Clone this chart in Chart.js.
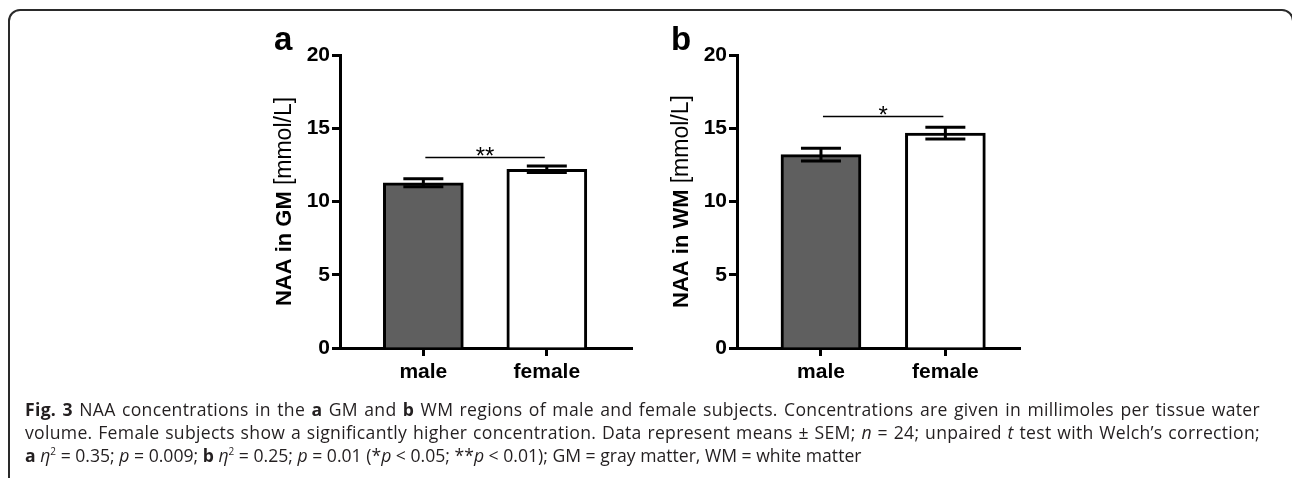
<!DOCTYPE html>
<html>
<head>
<meta charset="utf-8">
<script src="https://cdn.jsdelivr.net/npm/chart.js@4/dist/chart.umd.min.js"></script>
<style>
  html, body { margin: 0; padding: 0; background: #fff; }
  body { width: 1292px; height: 478px; position: relative; overflow: hidden; }
  .frame {
    position: absolute; left: 8px; top: 9px; width: 1282px; height: 600px;
    border: 2px solid #2a2a2a; border-radius: 12px 12px 0 0;
  }
  canvas { position: absolute; top: 0; }
  #chartGM { left: 0; }
  #chartWM { left: 646px; }
  .cap {
    position: absolute; left: 25px; width: 1235px;
    font-family: "Open Sans", sans-serif; font-size: 17.6px; line-height: 23px;
    color: #231f20; white-space: nowrap;
  }
  .cap.j { text-align: justify; text-align-last: justify; letter-spacing: 0.3px; }
  .cap b { font-weight: 700; }
  .cap sup { font-size: 10px; line-height: 0; vertical-align: 7px; }
</style>
</head>
<body>
<div class="frame"></div>
<canvas id="chartGM" width="646" height="400"></canvas>
<canvas id="chartWM" width="646" height="400"></canvas>

<div class="cap j" style="top:398px"><b>Fig. 3</b> NAA concentrations in the <b>a</b> GM and <b>b</b> WM regions of male and female subjects. Concentrations are given in millimoles per tissue water</div>
<div class="cap j" style="top:421px">volume. Female subjects show a significantly higher concentration. Data represent means ± SEM; <i>n</i> = 24; unpaired <i>t</i> test with Welch’s correction;</div>
<div class="cap" style="top:444px"><b>a</b> <i>η</i><sup>2</sup> = 0.35; <i>p</i> = 0.009; <b>b</b> <i>η</i><sup>2</sup> = 0.25; <i>p</i> = 0.01 (*<i>p</i> &lt; 0.05; **<i>p</i> &lt; 0.01); GM = gray matter, WM = white matter</div>

<script>
// data
const categories = ['male', 'female'];
const gmMeans = [11.28, 12.2];
const gmSem = [0.27, 0.22];
const wmMeans = [13.2, 14.67];
const wmSem = [0.43, 0.4];
const yMax = 20;
const yStep = 5;
const sigLevels = [13.0, 15.8];
const sigMarks = ['**', '*'];

const barColors = ['#5f5f5f', '#ffffff'];
const fontFamily = "'Liberation Sans', Arial, sans-serif";

// error bars, significance line, panel letter, y title
const panelDecor = {
    id: 'panelDecor',
    afterDatasetsDraw(chart, args, opts) {
        const ctx = chart.ctx;
        const xs = chart.scales.x, ys = chart.scales.y;
        ctx.save();
        ctx.strokeStyle = '#000';
        ctx.lineWidth = 3;
        opts.means.forEach((m, i) => {
            const x = xs.getPixelForValue(i);
            const yt = ys.getPixelForValue(m + opts.sem[i]);
            const yb = ys.getPixelForValue(m - opts.sem[i]);
            ctx.beginPath();
            ctx.moveTo(x, yt); ctx.lineTo(x, yb);
            ctx.moveTo(x - 20, yt); ctx.lineTo(x + 20, yt);
            ctx.moveTo(x - 20, yb); ctx.lineTo(x + 20, yb);
            ctx.stroke();
        });
        // significance bracket
        const sy = ys.getPixelForValue(opts.sig);
        const x0 = xs.getPixelForValue(0), x1 = xs.getPixelForValue(1);
        ctx.lineWidth = 1.5;
        ctx.beginPath();
        ctx.moveTo(x0 + 2, sy); ctx.lineTo(x1 - 2, sy);
        ctx.stroke();
        ctx.fillStyle = '#000';
        ctx.font = '24px ' + fontFamily;
        ctx.textAlign = 'center';
        ctx.textBaseline = 'alphabetic';
        ctx.fillText(opts.mark, (x0 + x1) / 2, sy + 6);
        ctx.restore();
    },
    afterDraw(chart, args, opts) {
        const ctx = chart.ctx;
        const area = chart.chartArea;
        ctx.save();
        ctx.fillStyle = '#000';
        ctx.font = 'bold 33px ' + fontFamily;
        ctx.textAlign = 'left';
        ctx.textBaseline = 'alphabetic';
        ctx.fillText(opts.letter, area.left - 66, area.top - 5);

        // rotated y title, bold part + normal part
        const boldFont = 'bold 22px ' + fontFamily;
        const normFont = '23px ' + fontFamily;
        ctx.font = boldFont;
        const w1 = ctx.measureText(opts.titleBold).width;
        ctx.font = normFont;
        const w2 = ctx.measureText(opts.titleNorm).width;
        ctx.translate(area.left - 55, (area.top + area.bottom) / 2);
        ctx.rotate(-Math.PI / 2);
        ctx.textBaseline = 'middle';
        let x = -(w1 + w2) / 2;
        ctx.font = boldFont;
        ctx.fillText(opts.titleBold, x, 0);
        ctx.font = normFont;
        ctx.fillText(opts.titleNorm, x + w1, 0);
        ctx.restore();
    }
};

function makePanel(id, means, sem, opts) {
    const ctx = document.getElementById(id);
    if (!ctx) return;
    new Chart(ctx, {
        type: 'bar',
        data: {
            datasets: [{
                data: means.map((v, i) => ({ x: i, y: v })),
                backgroundColor: barColors,
                borderColor: '#000',
                borderWidth: 3,
                barThickness: 80
            }]
        },
        options: {
            responsive: false,
            animation: false,
            layout: { padding: { left: opts.padLeft, right: opts.padRight, top: 55, bottom: 12 } },
            plugins: {
                legend: { display: false },
                tooltip: { enabled: false },
                panelDecor: {
                    means: means, sem: sem, sig: opts.sig, mark: opts.mark,
                    letter: opts.letter, titleBold: opts.titleBold, titleNorm: '[mmol/L]'
                }
            },
            scales: {
                x: {
                    type: 'linear',
                    offset: false,
                    min: -0.675,
                    max: opts.xMax,
                    afterBuildTicks: (s) => { s.ticks = categories.map((c, i) => ({ value: i })); },
                    afterFit: (s) => { s.height = 40; },
                    ticks: {
                        autoSkip: false,
                        maxRotation: 0,
                        padding: 4,
                        color: '#000',
                        font: { family: fontFamily, size: 21, weight: 'bold' },
                        callback: (v) => categories[v]
                    },
                    grid: { offset: false, drawOnChartArea: false, drawTicks: true, tickLength: 8, tickWidth: 3, tickColor: '#000' },
                    border: { display: true, color: '#000', width: 3 }
                },
                y: {
                    min: 0,
                    max: yMax,
                    afterFit: (s) => { s.width = 90; },
                    ticks: {
                        stepSize: yStep,
                        padding: 2,
                        color: '#000',
                        font: { family: fontFamily, size: 21, weight: 'bold' }
                    },
                    grid: { drawOnChartArea: false, drawTicks: true, tickLength: 8, tickWidth: 3, tickColor: '#000' },
                    border: { display: true, color: '#000', width: 3 }
                }
            }
        },
        plugins: [panelDecor]
    });
}

makePanel('chartGM', gmMeans, gmSem, {
    padLeft: 250, padRight: 14, xMax: 1.69,
    sig: sigLevels[0], mark: sigMarks[0], letter: 'a', titleBold: 'NAA in GM '
});
makePanel('chartWM', wmMeans, wmSem, {
    padLeft: 1, padRight: 272, xMax: 1.6,
    sig: sigLevels[1], mark: sigMarks[1], letter: 'b', titleBold: 'NAA in WM '
});
</script>
</body>
</html>
